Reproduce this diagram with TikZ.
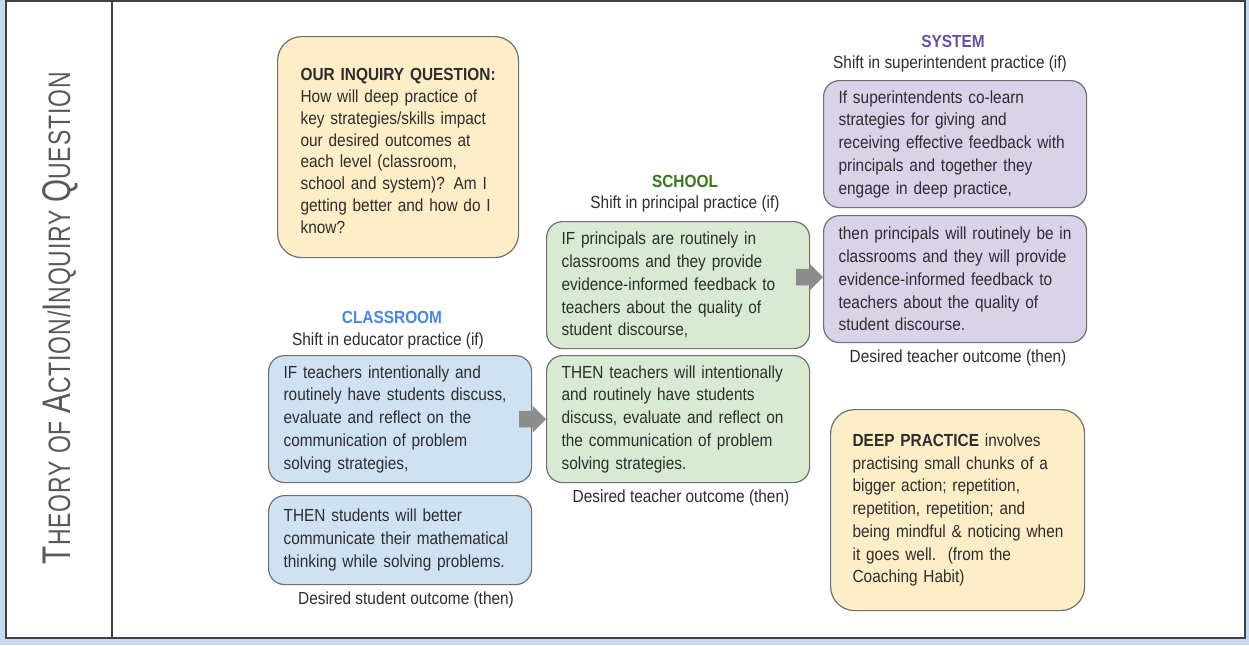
\documentclass[tikz,border=0pt]{standalone}
\usepackage{fontspec}
\setmainfont[FakeStretch=0.88]{Liberation Sans}
\newfontfamily\sidefont[FakeStretch=0.74,LetterSpace=3]{Liberation Sans}
\usetikzlibrary{positioning,shapes.arrows,calc}

\definecolor{framebg}{RGB}{198,217,241}
\definecolor{notefill}{RGB}{253,238,200}
\definecolor{classfill}{RGB}{207,226,243}
\definecolor{schoolfill}{RGB}{217,234,211}
\definecolor{sysfill}{RGB}{217,210,233}
\definecolor{classblue}{RGB}{74,134,232}
\definecolor{schoolgreen}{RGB}{56,118,29}
\definecolor{syspurple}{RGB}{103,78,167}
\definecolor{edgegray}{RGB}{112,112,112}
\definecolor{inkgray}{RGB}{45,45,45}

\newcommand{\sidecap}[1]{{\fontsize{40}{40}\selectfont #1}}

\tikzset{
  card/.style={draw=edgegray, line width=1.2pt, rounded corners=16pt, align=left,
    anchor=north west, inner xsep=15pt, inner ysep=0pt, text width=233pt, text=inkgray},
  note/.style={card, fill=notefill, rounded corners=24pt},
  lvltitle/.style={font=\fontsize{17.5}{22.75}\selectfont\bfseries},
  caption/.style={text=inkgray},
  blockarrow/.style={single arrow, fill=gray!90, draw=gray!110!black, line width=.8pt,
    inner xsep=0pt, inner ysep=7.5pt, single arrow head extend=4.5pt,
    minimum height=26pt, anchor=tip}
}

\begin{document}
\begin{tikzpicture}[x=1pt,y=-1pt,font=\fontsize{17.5}{22.75}\selectfont]
\useasboundingbox (0,0) rectangle (1249,645);
\fill[framebg] (0,0) rectangle (1249,645);
\filldraw[fill=white,draw=black!75,line width=1.5pt] (6,1) rectangle (1245,638);
\draw[black!75,line width=1.5pt] (112,1) -- (112,638);
\node[rotate=90,text=gray!70!black] (side) at (60,318) {\sidefont\fontsize{31}{31}\selectfont
  \sidecap{T}HEORY OF \sidecap{A}CTION/\sidecap{I}NQUIRY \sidecap{Q}UESTION};

% inquiry question
\node[note, font=\fontsize{17.5}{21.75}\selectfont, text width=195pt, inner xsep=23pt,
  minimum height=221pt] (quest) at (277,36)
  {\rule{0pt}{20pt}\mbox{\textbf{OUR INQUIRY QUESTION:}}\\How will deep practice of\\key strategies/skills impact\\our desired outcomes at\\each level (classroom,\\school and system)? Am I\\getting better and how do I\\know?};

% system
\node[lvltitle,text=syspurple] (systitle) at (953,41) {SYSTEM};
\node[caption] (sysshift) at (950,64) {Shift in superintendent practice (if)};
\node[card, fill=sysfill, minimum height=127pt] (sysif) at (823,80)
  {If superintendents co-learn\\strategies for giving and\\receiving effective feedback with\\principals and together they\\engage in deep practice,};
\node[card, fill=sysfill, minimum height=127pt] (systhen) at (823,215)
  {then principals will routinely be in\\classrooms and they will provide\\evidence-informed feedback to\\teachers about the quality of\\student discourse.};
\node[caption] (sysout) at (958,358) {Desired teacher outcome (then)};

% school
\node[lvltitle,text=schoolgreen] (schtitle) at (685,181) {SCHOOL};
\node[caption] (schshift) at (685,204) {Shift in principal practice (if)};
\node[card, fill=schoolfill, minimum height=127pt] (schif) at (546,221)
  {IF principals are routinely in\\classrooms and they provide\\evidence-informed feedback to\\teachers about the quality of\\student discourse,};
\node[card, fill=schoolfill, minimum height=127pt] (schthen) at (546,355)
  {THEN teachers will intentionally\\and routinely have students\\discuss, evaluate and reflect on\\the communication of problem\\solving strategies.};
\node[caption] (schout) at (681,498) {Desired teacher outcome (then)};

% classroom
\node[lvltitle,text=classblue] (cltitle) at (392,317) {CLASSROOM};
\node[caption] (clshift) at (388,341) {Shift in educator practice (if)};
\node[card, fill=classfill, minimum height=127pt] (clif) at (268,355)
  {IF teachers intentionally and\\routinely have students discuss,\\evaluate and reflect on the\\communication of problem\\solving strategies,};
\node[card, fill=classfill, minimum height=89pt] (clthen) at (268,495)
  {THEN students will better\\communicate their mathematical\\thinking while solving problems.};
\node[caption] (clout) at (406,600) {Desired student outcome (then)};

% deep practice
\node[note, text width=210pt, inner xsep=22pt, minimum height=201pt] (deep) at (830,409)
  {\textbf{DEEP PRACTICE} involves\\practising small chunks of a\\bigger action; repetition,\\repetition, repetition; and\\\mbox{being mindful \& noticing when}\\it goes well.\ \ (from the\\Coaching Habit)};

% arrows
\node[blockarrow] (arrsch) at ($(systhen.west)+(0,-2)$) {};
\node[blockarrow] (arrcl) at (schthen.west) {};
\end{tikzpicture}
\end{document}
